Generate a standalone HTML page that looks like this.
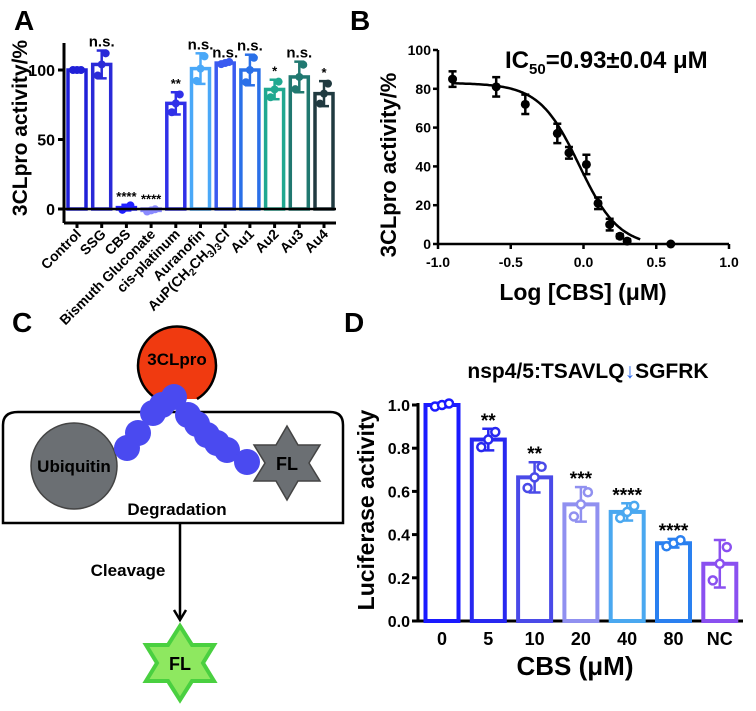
<!DOCTYPE html>
<html><head><meta charset="utf-8"><style>
body{margin:0;background:#fff;}
svg{display:block;font-family:"Liberation Sans",Arial,sans-serif;font-weight:bold;}
</style></head><body>
<svg id="fig" width="756" height="711" viewBox="0 0 756 711" xmlns="http://www.w3.org/2000/svg">
<text x="14" y="30" font-size="28">A</text>
<text x="350" y="30" font-size="28">B</text>
<text x="12" y="332" font-size="28">C</text>
<text x="344" y="332" font-size="28">D</text>
<g id="pa"></g>
<g id="pb"></g>
<g id="pd"></g>

<g>
<path d="M18 412 H330 Q343 412 343 425 V523 H3 V425 Q3 412 18 412 Z" fill="none" stroke="#000" stroke-width="2.5"/>
<path d="M157 399 A39 39 0 1 1 197 399" fill="#f03a10" stroke="#000" stroke-width="2.5"/>
<text x="177" y="365" font-size="17" text-anchor="middle">3CLpro</text>
<circle cx="74" cy="466" r="43" fill="#6b6f73" stroke="#444" stroke-width="1.5"/>
<text x="74" y="472" font-size="17" text-anchor="middle">Ubiquitin</text>
<polygon points="287,426 298,445 320,445 309,463 320,481 298,481 287,500 276,481 254,481 265,463 254,445 276,445" fill="#6b6f73" stroke="#444" stroke-width="1.5"/>
<text x="287" y="470" font-size="18" text-anchor="middle">FL</text>
<g fill="#4a4af0">
<circle cx="127" cy="448" r="13"/><circle cx="138" cy="433" r="13"/><circle cx="153" cy="413" r="13"/><circle cx="162" cy="405" r="13"/><circle cx="174" cy="397" r="13"/><circle cx="188" cy="415" r="13"/><circle cx="197" cy="424" r="13"/><circle cx="207" cy="435" r="13"/><circle cx="217" cy="443" r="13"/><circle cx="227" cy="450" r="13"/><circle cx="247" cy="462" r="13"/>
</g>
<text x="177" y="515" font-size="17" text-anchor="middle">Degradation</text>
<line x1="180" y1="523" x2="180" y2="618" stroke="#000" stroke-width="2.5"/>
<polyline points="174,610 180,620 186,610" fill="none" stroke="#000" stroke-width="2.5"/>
<text x="128" y="576" font-size="17" text-anchor="middle">Cleavage</text>
<polygon points="180,626 192,645 214,645 203,663 214,681 192,681 180,700 168,681 146,681 157,663 146,645 168,645" fill="#8ee860" stroke="#4ad040" stroke-width="4"/>
<text x="180" y="670" font-size="18" text-anchor="middle">FL</text>
</g>
</svg>
<script>
// ---------- Panel A data ----------
const aCategories=["Control","SSG","CBS","Bismuth Gluconate","cis-platinum","Auranofin","AuP(CH2CH3)3Cl","Au1","Au2","Au3","Au4"];
const aValues=[100,104,1,-1,76,101,105,100,86,95,83];
const aErrors=[0,10,2,1,8,11,1,11,7,11,9];
const aSig=["","n.s.","****","****","**","n.s.","n.s.","n.s.","*","n.s.","*"];
const aColors=["#2020d8","#2a2ad8","#2020ff","#8a8aff","#3030e8","#4aa8f8","#3a5af0","#2a70e8","#20a890","#207870","#203a40"];
const aTicks=[0,50,100];
// ---------- Panel B data ----------
const bX=[-0.9,-0.6,-0.4,-0.18,-0.1,0.02,0.1,0.18,0.25,0.3,0.6];
const bY=[85,81,72,57,47,41,21,10,4,1.5,0];
const bErr=[4,5,5,5,3,5,3,3,1,1,0];
const bXTicks=[-1,-0.5,0,0.5,1];
const bYTicks=[0,20,40,60,80,100];
const bFit={top:83,logIC50:-0.03,hill:3.2};
// ---------- Panel D data ----------
const dCategories=["0","5","10","20","40","80","NC"];
const dValues=[1.0,0.84,0.665,0.54,0.505,0.36,0.265];
const dErrors=[0.01,0.05,0.07,0.08,0.04,0.02,0.11];
const dSig=["","**","**","***","****","****",""];
const dColors=["#1a1aff","#2828f0","#4a4ae8","#9090f0","#4aa8f0","#2a80f0","#8a50f0"];
const dTicks=[0,0.2,0.4,0.6,0.8,1.0];

const NS="http://www.w3.org/2000/svg";
function mk(p,t,a,txt){const e=document.createElementNS(NS,t);for(const k in a)e.setAttribute(k,a[k]);if(txt!==undefined)e.textContent=txt;p.appendChild(e);return e;}

// Panel A
(function(){
const g=document.getElementById('pa');
const y=v=>209-v*1.39, x=i=>77+i*24.7, bw=18;
mk(g,'line',{x1:64,y1:43,x2:64,y2:223,stroke:'#000','stroke-width':3});
mk(g,'line',{x1:64,y1:223,x2:336,y2:223,stroke:'#000','stroke-width':3});
aTicks.forEach(t=>{mk(g,'line',{x1:58,x2:64,y1:y(t),y2:y(t),stroke:'#000','stroke-width':3});
const l=mk(g,'text',{x:55,y:y(t)+6,'font-size':16,'text-anchor':'end'},t);
});
const yt=mk(g,'text',{transform:'translate(27,128) rotate(-90)','font-size':21,'text-anchor':'middle'},'3CLpro activity/%');

aCategories.forEach((c,i)=>{
const v=aValues[i],cx=x(i),col=aColors[i];
const r=mk(g,'rect',{x:cx-bw/2,y:Math.min(y(v),y(0)),width:bw,height:Math.abs(y(0)-y(v)),fill:'#fff',stroke:col,'stroke-width':3.5});

const e=aErrors[i];
mk(g,'line',{x1:cx,x2:cx,y1:y(v+e),y2:y(v-e),stroke:col,'stroke-width':2.5});
mk(g,'line',{x1:cx-5,x2:cx+5,y1:y(v+e),y2:y(v+e),stroke:col,'stroke-width':2.5});
mk(g,'line',{x1:cx-5,x2:cx+5,y1:y(v-e),y2:y(v-e),stroke:col,'stroke-width':2.5});
[-1,0,1].forEach(k=>mk(g,'circle',{cx:cx+k*4,cy:y(v+k*e*0.8),r:4,fill:col}));
mk(g,'line',{x1:cx,x2:cx,y1:223,y2:228,stroke:'#000','stroke-width':3});
const lab=c==="AuP(CH2CH3)3Cl"?'AuP(CH<tspan font-size="10" dy="3">2</tspan><tspan dy="-3">CH</tspan><tspan font-size="10" dy="3">3</tspan><tspan dy="-3">)</tspan><tspan font-size="10" dy="3">3</tspan><tspan dy="-3">Cl</tspan>':c;
const t=mk(g,'text',{transform:`translate(${cx+5},${235}) rotate(-45)`,'font-size':14,'text-anchor':'end'});t.innerHTML=lab;

if(aSig[i]){const s=mk(g,'text',{x:cx,y:y(Math.max(v,0)+e)-4,'font-size':aSig[i]==='n.s.'?15:13,'text-anchor':'middle'},aSig[i]);
}
});
mk(g,'line',{x1:64,y1:209,x2:336,y2:209,stroke:'#000','stroke-width':2.5});
})();

// Panel B
(function(){
const g=document.getElementById('pb');
const x=v=>438+(v+1)*145.5, y=v=>244-v*1.94;
mk(g,'line',{x1:438,y1:50,x2:438,y2:245,stroke:'#000','stroke-width':2.5});
mk(g,'line',{x1:437,y1:244,x2:729,y2:244,stroke:'#000','stroke-width':2.5});
bYTicks.forEach(t=>{mk(g,'line',{x1:433,x2:438,y1:y(t),y2:y(t),stroke:'#000','stroke-width':2.5});
const l=mk(g,'text',{x:431,y:y(t)+5,'font-size':14,'text-anchor':'end'},t);
});
bXTicks.forEach(t=>{mk(g,'line',{x1:x(t),x2:x(t),y1:244,y2:249,stroke:'#000','stroke-width':2.5});
const l=mk(g,'text',{x:x(t),y:267,'font-size':14,'text-anchor':'middle'},t.toFixed(1));
});
let d='';for(let v=-0.9;v<=0.395;v+=0.01){let yy=bFit.top/(1+Math.pow(10,(v-bFit.logIC50)*bFit.hill));yy=Math.max(0,yy-1.2*(v+0.9)/1.3);d+=(d?'L':'M')+x(v).toFixed(1)+' '+y(yy).toFixed(1);}
const c=mk(g,'path',{d:d,fill:'none',stroke:'#000','stroke-width':2.5});

bX.forEach((v,i)=>{const cx=x(v),e=bErr[i];
if(e){mk(g,'line',{x1:cx,x2:cx,y1:y(bY[i]+e),y2:y(bY[i]-e),stroke:'#000','stroke-width':2.5});
mk(g,'line',{x1:cx-4,x2:cx+4,y1:y(bY[i]+e),y2:y(bY[i]+e),stroke:'#000','stroke-width':2.5});
mk(g,'line',{x1:cx-4,x2:cx+4,y1:y(bY[i]-e),y2:y(bY[i]-e),stroke:'#000','stroke-width':2.5});}
const p=mk(g,'circle',{cx:cx,cy:y(bY[i]),r:4.5,fill:'#000'});
});
const t1=mk(g,'text',{x:505,y:68,'font-size':24});t1.innerHTML='IC<tspan font-size="15" dy="6">50</tspan><tspan dy="-6">=0.93±0.04 μM</tspan>';

const xt=mk(g,'text',{x:583,y:300,'font-size':23,'text-anchor':'middle'},'Log [CBS] (μM)');

const yt=mk(g,'text',{transform:'translate(396,165) rotate(-90)','font-size':22,'text-anchor':'middle'},'3CLpro activity/%');

})();

// Panel D
(function(){
const g=document.getElementById('pd');
const y=v=>621-v*216, x=i=>442+i*46.3, bw=33;
mk(g,'line',{x1:418,y1:403,x2:418,y2:622,stroke:'#000','stroke-width':3});
mk(g,'line',{x1:417,y1:621,x2:743,y2:621,stroke:'#000','stroke-width':3});
dTicks.forEach(t=>{mk(g,'line',{x1:412,x2:418,y1:y(t),y2:y(t),stroke:'#000','stroke-width':3});
const l=mk(g,'text',{x:410,y:y(t)+6,'font-size':16,'text-anchor':'end'},t.toFixed(1));
});
dCategories.forEach((c,i)=>{const v=dValues[i],cx=x(i),col=dColors[i],e=dErrors[i];
const r=mk(g,'rect',{x:cx-bw/2,y:y(v),width:bw,height:y(0)-y(v),fill:'#fff',stroke:col,'stroke-width':4});

mk(g,'line',{x1:cx,x2:cx,y1:y(v+e),y2:y(v-e),stroke:col,'stroke-width':2.5});
mk(g,'line',{x1:cx-6,x2:cx+6,y1:y(v+e),y2:y(v+e),stroke:col,'stroke-width':2.5});
mk(g,'line',{x1:cx-6,x2:cx+6,y1:y(v-e),y2:y(v-e),stroke:col,'stroke-width':2.5});
[-1,0,1].forEach(k=>mk(g,'circle',{cx:cx+k*7,cy:y(v+k*e*0.7),r:4,fill:'#fff',stroke:col,'stroke-width':2.5}));
const l=mk(g,'text',{x:cx,y:645,'font-size':18,'text-anchor':'middle'},c);

if(dSig[i]){const s=mk(g,'text',{x:cx,y:y(v+e)-2,'font-size':19,'text-anchor':'middle'},dSig[i]);
}});
const xt=mk(g,'text',{x:575,y:675,'font-size':26,'text-anchor':'middle'},'CBS (μM)');

const yt=mk(g,'text',{transform:'translate(374,510) rotate(-90)','font-size':23,'text-anchor':'middle'},'Luciferase activity');

const tt=mk(g,'text',{x:588,y:378,'font-size':21,'text-anchor':'middle'});
tt.innerHTML='nsp4/5:TSAVLQ<tspan fill="#2a6af0">↓</tspan>SGFRK';

})();
</script>
</body></html>
